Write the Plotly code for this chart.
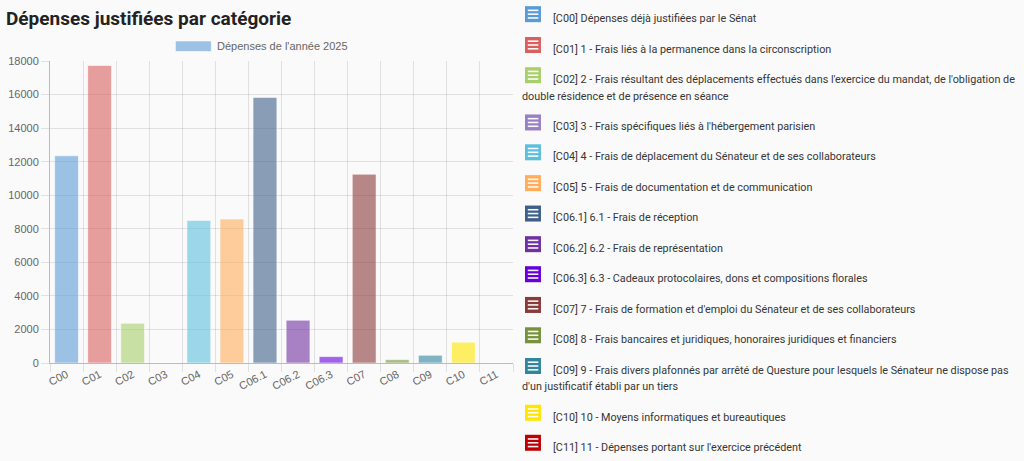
import plotly.graph_objects as go

# ---------------- data ----------------
categories = ["C00", "C01", "C02", "C03", "C04", "C05", "C06.1", "C06.2",
              "C06.3", "C07", "C08", "C09", "C10", "C11"]
values = [12350, 17730, 2370, 0, 8500, 8580, 15830, 2550, 380, 11250, 200, 460, 1240, 0]
base_colors = ["#5b9bd5", "#d9605e", "#a9cf6b", "#9b7fc4", "#5bc0de", "#ffad5b",
               "#3d5f8a", "#7030a0", "#6600dd", "#8b3a3a", "#76923c", "#31859c",
               "#ffe600", "#c00000"]
descriptions = [
    ["[C00] Dépenses déjà justifiées par le Sénat"],
    ["[C01] 1 - Frais liés à la permanence dans la circonscription"],
    ["[C02] 2 - Frais résultant des déplacements effectués dans l'exercice du mandat, de l'obligation de",
     "double résidence et de présence en séance"],
    ["[C03] 3 - Frais spécifiques liés à l'hébergement parisien"],
    ["[C04] 4 - Frais de déplacement du Sénateur et de ses collaborateurs"],
    ["[C05] 5 - Frais de documentation et de communication"],
    ["[C06.1] 6.1 - Frais de réception"],
    ["[C06.2] 6.2 - Frais de représentation"],
    ["[C06.3] 6.3 - Cadeaux protocolaires, dons et compositions florales"],
    ["[C07] 7 - Frais de formation et d'emploi du Sénateur et de ses collaborateurs"],
    ["[C08] 8 - Frais bancaires et juridiques, honoraires juridiques et financiers"],
    ["[C09] 9 - Frais divers plafonnés par arrêté de Questure pour lesquels le Sénateur ne dispose pas",
     "d'un justificatif établi par un tiers"],
    ["[C10] 10 - Moyens informatiques et bureautiques"],
    ["[C11] 11 - Dépenses portant sur l'exercice précédent"],
]
series_name = "Dépenses de l'année 2025"
chart_title = "Dépenses justifiées par catégorie"
y_tick_values = [0, 2000, 4000, 6000, 8000, 10000, 12000, 14000, 16000, 18000]


def rgba(hex_color, a):
    h = hex_color.lstrip("#")
    r, g, b = int(h[0:2], 16), int(h[2:4], 16), int(h[4:6], 16)
    return f"rgba({r},{g},{b},{a})"


# ---------------- layout geometry (pixels) ----------------
W, H = 1024, 461
L, R, T, B = 49.5, 513.0, 61.0, 362.7
BG = "#fafafa"


def px(x):
    return (x - L) / (R - L)


def py(y):
    return (B - y) / (B - T)


fig = go.Figure()
fig.add_trace(go.Bar(
    x=categories,
    y=values,
    name=series_name,
    marker=dict(color=[rgba(c, 0.6) for c in base_colors],
                line=dict(color="rgba(255,255,255,0.55)", width=1)),
    showlegend=False,
    hoverinfo="x+y",
))

shapes = []
annotations = []

# title
annotations.append(dict(
    text=chart_title, x=px(3.5), y=py(18.5), xref="paper", yref="paper",
    xanchor="left", yanchor="middle", showarrow=False,
    font=dict(family="Roboto", size=19, color="#222222", weight="bold"),
))

# chart legend (series swatch + label)
shapes.append(dict(type="rect", xref="paper", yref="paper",
                   x0=px(175), x1=px(211), y0=py(51.5), y1=py(41),
                   fillcolor=rgba(base_colors[0], 0.6),
                   line=dict(color="rgba(255,255,255,0.6)", width=1)))
annotations.append(dict(
    text=series_name, x=px(214.5), y=py(46.3), xref="paper", yref="paper",
    xanchor="left", yanchor="middle", showarrow=False,
    font=dict(family="Liberation Sans", size=11, color="#666666"),
))

# category description list on the right
text_centers = [18.5, 49.3, 79.5, 126.7, 156.5, 187.3, 217.7, 248.3, 278.3,
                309.0, 339.3, 370.0, 416.7, 446.7]
desc_font = dict(family="Roboto", size=10.8, color="#363636")
for i, (lines, col) in enumerate(zip(descriptions, base_colors)):
    cy = text_centers[i]
    ic = cy - 4.3
    shapes.append(dict(type="rect", xref="paper", yref="paper",
                       x0=px(525), x1=px(541), y0=py(ic + 8), y1=py(ic - 8),
                       fillcolor=col, line=dict(width=0)))
    for dy in (-3.8, 0, 3.8):
        shapes.append(dict(type="line", xref="paper", yref="paper",
                           x0=px(527.8), x1=px(538.4), y0=py(ic + dy), y1=py(ic + dy),
                           line=dict(color="rgba(255,255,255,0.95)", width=1.6)))
    annotations.append(dict(
        text=lines[0], x=px(551.5), y=py(cy), xref="paper", yref="paper",
        xanchor="left", yanchor="middle", showarrow=False, font=desc_font,
    ))
    for k, extra in enumerate(lines[1:], start=1):
        annotations.append(dict(
            text=extra, x=px(520.5), y=py(cy + 16.5 * k), xref="paper", yref="paper",
            xanchor="left", yanchor="middle", showarrow=False, font=desc_font,
        ))

fig.update_layout(
    width=W, height=H,
    margin=dict(l=L, r=W - R, t=T, b=H - B, pad=0, autoexpand=False),
    paper_bgcolor=BG, plot_bgcolor=BG,
    bargap=0.28,
    shapes=shapes,
    annotations=annotations,
    font=dict(family="Liberation Sans", size=11, color="#666666"),
    xaxis=dict(
        type="category",
        tickson="boundaries",
        automargin=False,
        showgrid=True, gridcolor="rgba(0,0,0,0.1)", gridwidth=1,
        ticks="outside", ticklen=8, tickcolor="rgba(0,0,0,0.1)",
        showline=True, linecolor="rgba(0,0,0,0.25)", linewidth=1,
        tickangle=-28,
        tickfont=dict(family="Liberation Sans", size=11, color="#666666"),
        range=[-0.5, len(categories) - 0.5],
        fixedrange=True,
    ),
    yaxis=dict(
        range=[0, 18000],
        automargin=False,
        tickvals=y_tick_values,
        ticktext=[str(v) for v in y_tick_values],
        showgrid=True, gridcolor="rgba(0,0,0,0.1)", gridwidth=1,
        zeroline=False,
        ticks="outside", ticklen=8, tickcolor="rgba(0,0,0,0.1)",
        showline=True, linecolor="rgba(0,0,0,0.25)", linewidth=1,
        tickfont=dict(family="Liberation Sans", size=11, color="#666666"),
        ticklabelstandoff=0,
        fixedrange=True,
    ),
)

fig.write_html(
    "out.html",
    config={"displayModeBar": False},
    post_script="document.body.style.margin='0';document.body.style.background='#fafafa';",
)
